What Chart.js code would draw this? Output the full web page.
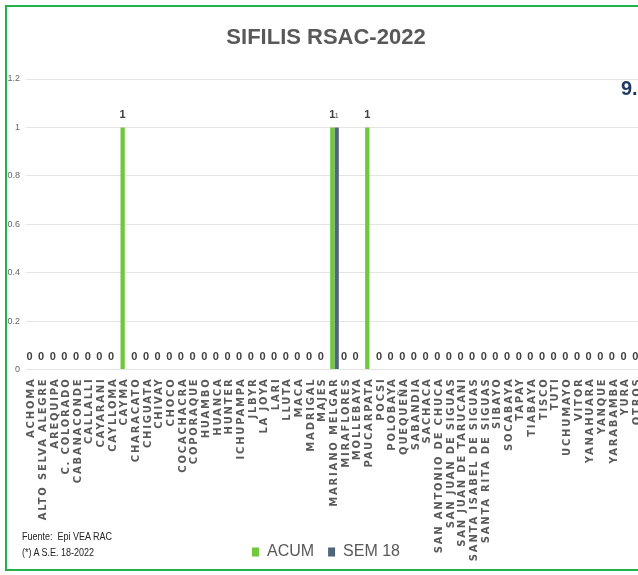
<!DOCTYPE html>
<html><head><meta charset="utf-8">
<script src="https://cdn.jsdelivr.net/npm/chart.js@4.4.1/dist/chart.umd.min.js"></script>
<style>
html,body{margin:0;padding:0;background:#fff;overflow:hidden;width:638px;height:575px;}
#wrap{position:relative;width:638px;height:575px;overflow:hidden;}
#frame{position:absolute;left:5px;top:5px;width:700px;height:566px;border:2px solid #22b24c;box-sizing:border-box;pointer-events:none;}
canvas{position:absolute;left:0;top:0;}
.note{position:absolute;left:22px;font-family:'Liberation Sans',sans-serif;font-size:10px;color:#222;line-height:12px;white-space:pre;transform:scaleX(0.9);transform-origin:0 0;}
#nine{position:absolute;left:621px;top:77px;font:bold 20px 'Liberation Sans',sans-serif;color:#1f3864;}
</style></head><body>
<div id="wrap">
<canvas id="c" width="644" height="575"></canvas>
<div id="frame"></div>
<div class="note" style="top:531px">Fuente:  Epi VEA RAC</div>
<div class="note" style="top:547px">(*) A S.E. 18-2022</div>
<div id="nine">9.</div>
</div>
<script>
const chartTitle = 'SIFILIS RSAC-2022';
const seriesNames = ['ACUM', 'SEM 18'];
const categories = [
  'ACHOMA','ALTO SELVA ALEGRE','AREQUIPA','C. COLORADO','CABANACONDE','CALLALLI','CAYARANI','CAYLLOMA',
  'CAYMA','CHARACATO','CHIGUATA','CHIVAY','CHOCO','COCACHACRA','COPORAQUE','HUAMBO','HUANCA','HUNTER',
  'ICHUPAMPA','JLBYR','LA JOYA','LARI','LLUTA','MACA','MADRIGAL','MAJES','MARIANO MELGAR','MIRAFLORES',
  'MOLLEBAYA','PAUCARPATA','POCSI','POLOBAYA','QUEQUEÑA','SABANDIA','SACHACA','SAN ANTONIO DE CHUCA',
  'SAN JUAN DE SIGUAS','SAN JUAN DE TARUCANI','SANTA ISABEL DE SIGUAS','SANTA RITA DE SIGUAS','SIBAYO',
  'SOCABAYA','TAPAY','TIABAYA','TISCO','TUTI','UCHUMAYO','VITOR','YANAHUARA','YANQUE','YARABAMBA','YURA','OTROS'
];
const acumValues = [
  0,0,0,0,0,0,0,0,
  1,
  0,0,0,0,0,0,0,0,0,0,0,0,0,0,0,0,0,
  1,
  0,0,
  1,
  0,0,0,0,0,0,0,0,0,0,0,0,0,0,0,0,0,0,0,0,0,0,0
];
const sem18Values = [
  0,0,0,0,0,0,0,0,
  0,
  0,0,0,0,0,0,0,0,0,0,0,0,0,0,0,0,0,
  1,
  0,0,
  0,
  0,0,0,0,0,0,0,0,0,0,0,0,0,0,0,0,0,0,0,0,0,0,0
];
const yTicks = {min: 0, max: 1.2, step: 0.2};

const valueLabels = {
  id: 'valueLabels',
  afterDatasetsDraw(chart) {
    const ctx = chart.ctx;
    chart.data.datasets.forEach((ds, di) => {
      const meta = chart.getDatasetMeta(di);
      meta.data.forEach((bar, i) => {
        const v = ds.data[i];
        if (di === 1 && !v) return;
        ctx.save();
        ctx.font = di === 0 ? 'bold 11px "Liberation Sans", sans-serif'
                            : '7px "Liberation Sans", sans-serif';
        ctx.fillStyle = '#404040';
        ctx.textAlign = 'center';
        ctx.textBaseline = 'alphabetic';
        ctx.fillText(String(v), bar.x, bar.y - (v ? 9 : 10));
        ctx.restore();
      });
    });
  }
};

const labelSpacing = {
  id: 'labelSpacing',
  beforeDraw(chart) {
    const s = chart.scales.x;
    if (s && !s._spPatched) {
      const orig = s.drawLabels;
      s._computeLabelArea = function () { return undefined; };
      s.drawLabels = function (a) {
        const c = this.ctx;
        c.save();
        c.letterSpacing = '1.8px';
        orig.call(this, a);
        c.restore();
      };
      s._spPatched = true;
    }
    const y = chart.scales.y;
    if (y && !y._noClip) {
      y._computeLabelArea = function () { return undefined; };
      y._noClip = true;
    }
  }
};

new Chart(document.getElementById('c'), {
  type: 'bar',
  data: {
    labels: categories,
    datasets: [
      {label: seriesNames[0], data: acumValues, backgroundColor: '#6fc93a', borderWidth: 0,
       categoryPercentage: 0.74, barPercentage: 1.0},
      {label: seriesNames[1], data: sem18Values, backgroundColor: '#50657e', borderWidth: 0,
       categoryPercentage: 0.74, barPercentage: 1.0}
    ]
  },
  options: {
    responsive: false,
    animation: false,
    devicePixelRatio: 1,
    layout: {padding: {left: 8.8, right: 0.8, top: 0, bottom: 5}},
    plugins: {
      title: {
        display: true, text: chartTitle, color: '#595959',
        font: {family: '"Liberation Sans", sans-serif', weight: 'bold', size: 22, lineHeight: 1.2},
        padding: {top: 24.8, bottom: 27.8}
      },
      legend: {
        position: 'bottom',
        labels: {
          boxWidth: 7, boxHeight: 9, padding: 14, color: '#595959',
          font: {family: '"Liberation Sans", sans-serif', size: 16}
        }
      },
      tooltip: {enabled: false}
    },
    scales: {
      x: {
        grid: {display: false},
        border: {display: false},
        ticks: {
          autoSkip: false, maxRotation: 90, minRotation: 90, padding: 0, color: '#595959',
          font: {family: '"DejaVu Sans", sans-serif', weight: 'bold', size: 10}
        },
        afterFit(scale) { scale.height = 160.5; scale.paddingLeft = 0; scale.paddingRight = 0; }
      },
      y: {
        min: yTicks.min, max: yTicks.max,
        grid: {color: '#e4e4e4', drawTicks: false},
        border: {display: false},
        ticks: {
          stepSize: yTicks.step, padding: 5.8, color: '#666666',
          font: {family: '"Liberation Sans", sans-serif', size: 9},
          callback: (v) => String(Math.round(v * 10) / 10)
        },
        afterFit(scale) { scale.width = 17; }
      }
    }
  },
  plugins: [valueLabels, labelSpacing]
});
</script>
</body></html>
